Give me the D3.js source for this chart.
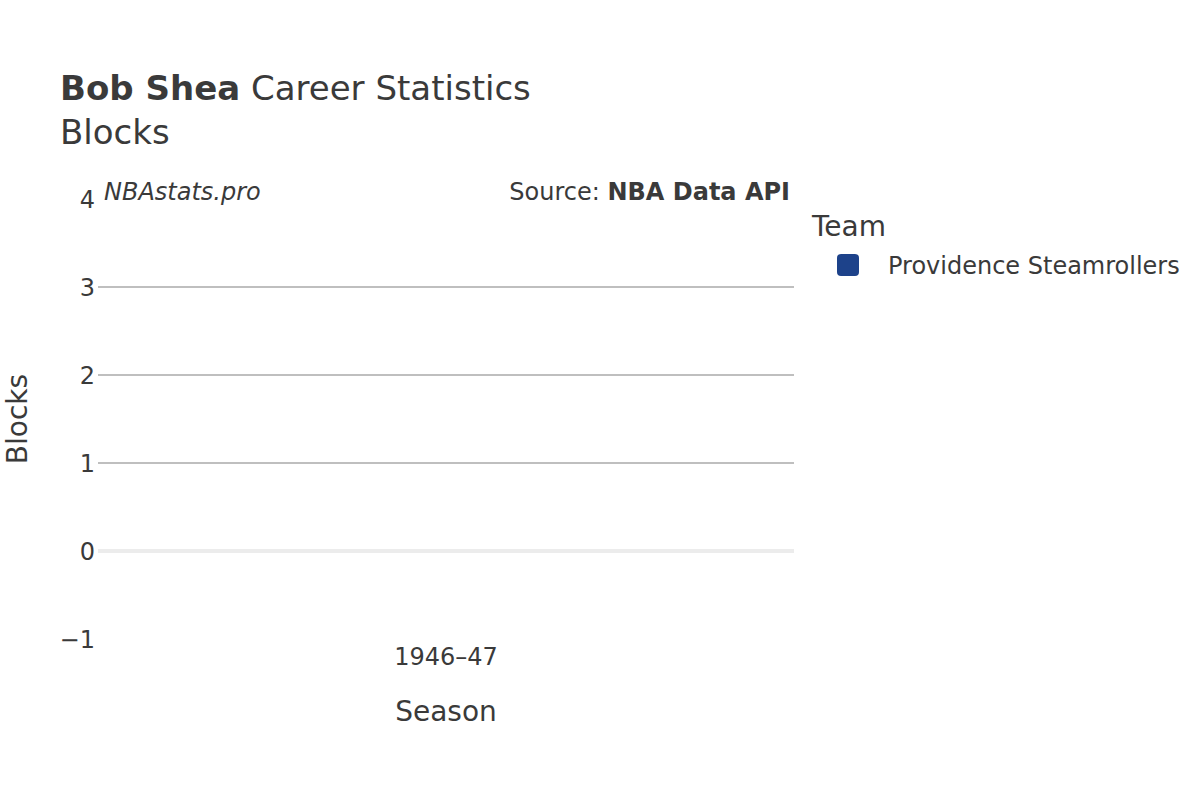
<!DOCTYPE html>
<html>
<head>
<meta charset="utf-8">
<script src="https://cdn.jsdelivr.net/npm/d3@7"></script>
<style>
  body { margin: 0; background: #fff; }
  text { font-family: "DejaVu Sans", sans-serif; fill: #3a3a3a; }
</style>
</head>
<body>
<div id="chart"></div>
<script>
// data
const seasons = ["1946–47"];
const teams = ["Providence Steamrollers"];
const teamColors = ["#1d428a"];
const blocks = [0];
const yTicks = [-1, 0, 1, 2, 3, 4];

const W = 1200, H = 800;
const margin = {top: 199, left: 98, right: 406, bottom: 161};
const plotW = W - margin.left - margin.right,
  plotH = H - margin.top - margin.bottom;

const svg = d3.select("#chart")
  .append("svg")
  .attr("width", W)
  .attr("height", H);

const x = d3.scaleBand()
  .domain(seasons)
  .range([0, plotW])
  .padding(0.2);

const y = d3.scaleLinear()
  .domain([-1, 4])
  .range([plotH, 0]);

const color = d3.scaleOrdinal().domain(teams).range(teamColors);

const g = svg.append("g")
  .attr("transform", `translate(${margin.left},${margin.top})`);

// gridlines (skip the edges, zero line drawn separately)
g.selectAll(".grid")
  .data(yTicks.filter(d => d !== 0 && d !== -1 && d !== 4))
  .join("line")
    .attr("x1", 0).attr("x2", plotW)
    .attr("y1", d => y(d)).attr("y2", d => y(d))
    .attr("stroke", "#bfbfbf")
    .attr("stroke-width", 2);

g.append("line")
  .attr("x1", 0).attr("x2", plotW)
  .attr("y1", y(0)).attr("y2", y(0))
  .attr("stroke", "#ececec")
  .attr("stroke-width", 4);

// bars
const rows = seasons.map((s, i) => ({season: s, team: teams[i], value: blocks[i]}));
g.selectAll(".bar")
  .data(rows)
  .join("rect")
    .attr("x", d => x(d.season))
    .attr("width", x.bandwidth())
    .attr("y", d => y(Math.max(0, d.value)))
    .attr("height", d => Math.abs(y(d.value) - y(0)))
    .attr("fill", d => color(d.team));

// y axis labels
const yAxis = g.append("g")
  .call(d3.axisLeft(y).tickValues(yTicks).tickSize(0).tickPadding(3)
    .tickFormat(d => d < 0 ? "\u2212" + Math.abs(d) : d));
yAxis.select(".domain").remove();
yAxis.selectAll("text")
  .style("font-size", "24px")
  .attr("fill", "#3a3a3a")
  .attr("dy", "0.35em");

// x axis labels
const xAxis = g.append("g")
  .attr("transform", `translate(0,${plotH})`)
  .call(d3.axisBottom(x).tickSize(0).tickPadding(9));
xAxis.select(".domain").remove();
xAxis.selectAll("text")
  .style("font-size", "24px")
  .attr("fill", "#3a3a3a");

// axis titles
svg.append("text")
  .attr("x", margin.left + plotW / 2)
  .attr("y", 721)
  .attr("text-anchor", "middle")
  .style("font-size", "28px")
  .text("Season");

svg.append("text")
  .attr("transform", `translate(17,${margin.top + plotH / 2}) rotate(-90)`)
  .attr("text-anchor", "middle")
  .attr("dy", "0.35em")
  .style("font-size", "28px")
  .text("Blocks");

// title
const title = svg.append("text")
  .attr("x", 60)
  .attr("y", 100)
  .style("font-size", "34px");
title.append("tspan").style("font-weight", "bold").text("Bob Shea");
title.append("tspan").text(" Career Statistics");

svg.append("text")
  .attr("x", 60)
  .attr("y", 144)
  .style("font-size", "34px")
  .text("Blocks");

// annotations
svg.append("text")
  .attr("x", 104)
  .attr("y", 200)
  .style("font-size", "24px")
  .style("font-style", "italic")
  .text("NBAstats.pro");

const src = svg.append("text")
  .attr("x", 790)
  .attr("y", 200)
  .attr("text-anchor", "end")
  .style("font-size", "24px");
src.append("tspan").text("Source: ");
src.append("tspan").style("font-weight", "bold").text("NBA Data API");

// legend
svg.append("text")
  .attr("x", 812)
  .attr("y", 236)
  .style("font-size", "28px")
  .text("Team");

const legend = svg.selectAll(".legend")
  .data(teams)
  .join("g")
    .attr("transform", (d, i) => `translate(837,${254 + i * 30})`);

legend.append("rect")
  .attr("width", 22).attr("height", 22)
  .attr("rx", 4)
  .attr("fill", d => color(d));

legend.append("text")
  .attr("x", 51)
  .attr("y", 12)
  .attr("dy", "0.35em")
  .style("font-size", "24px")
  .text(d => d);
</script>
</body>
</html>
